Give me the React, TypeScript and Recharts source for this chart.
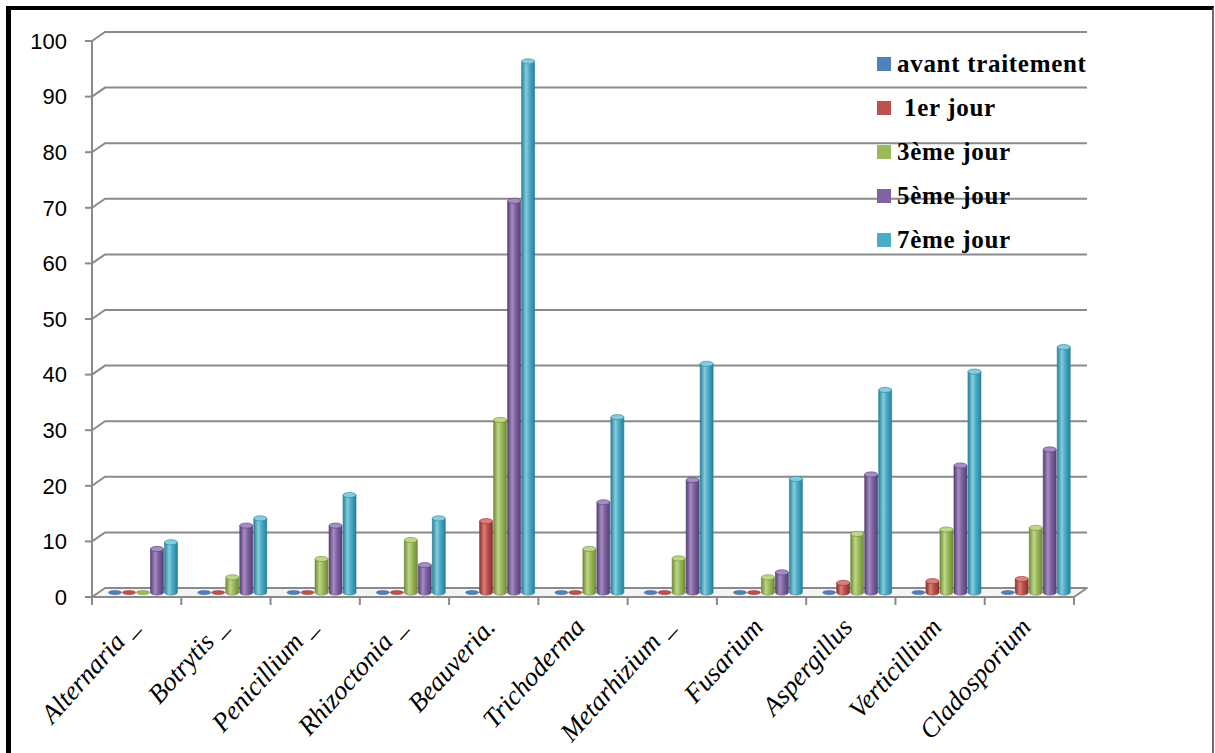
import React from 'react';
import { BarChart, Bar, XAxis, YAxis, CartesianGrid, Legend } from 'recharts';

// fungal genera on the category axis
const categories = [
  'Alternaria _', 'Botrytis _', 'Penicillium _', 'Rhizoctonia _', 'Beauveria.',
  'Trichoderma', 'Metarhizium _', 'Fusarium', 'Aspergillus', 'Verticillium', 'Cladosporium',
];

const avantTraitement = [0, 0, 0, 0, 0, 0, 0, 0, 0, 0, 0];
const jour1 = [0, 0, 0, 0, 13.3, 0, 0, 0, 2.2, 2.5, 2.9];
const jour3 = [0, 3.2, 6.5, 9.9, 31.5, 8.3, 6.6, 3.2, 11.0, 11.8, 12.1];
const jour5 = [8.3, 12.5, 12.5, 5.4, 70.9, 16.7, 20.7, 4.1, 21.7, 23.3, 26.2];
const jour7 = [9.5, 13.8, 18.0, 13.8, 96.0, 32.0, 41.6, 20.9, 36.9, 40.2, 44.6];

const yTicks = [0, 10, 20, 30, 40, 50, 60, 70, 80, 90, 100];

const SERIES = [
  { key: 'avant', name: 'avant traitement', color: '#4F81BD', edge: '#2F5A8C', light: '#7FA6D6' },
  { key: 'j1', name: ' 1er jour', color: '#C0504D', edge: '#8A302D', light: '#DB7F7C' },
  { key: 'j3', name: '3ème jour', color: '#9BBB59', edge: '#6F8A36', light: '#BDD68A' },
  { key: 'j5', name: '5ème jour', color: '#8064A2', edge: '#563F75', light: '#A58DC4' },
  { key: 'j7', name: '7ème jour', color: '#4BACC6', edge: '#27819A', light: '#86CCDD' },
];

const data = categories.map((name, i) => ({
  name,
  avant: avantTraitement[i],
  j1: jour1[i],
  j3: jour3[i],
  j5: jour5[i],
  j7: jour7[i],
}));

// layout
const W = 1215;
const H = 753;
const MARGIN = { top: 41, right: 141, bottom: 16, left: 32 };
const Y_AXIS_W = 60;
const X_AXIS_H = 140;
const PLOT_LEFT = MARGIN.left + Y_AXIS_W;
const PLOT_RIGHT = W - MARGIN.right;
const PLOT_BOTTOM = H - MARGIN.bottom - X_AXIS_H;
const BAND = (PLOT_RIGHT - PLOT_LEFT) / categories.length;

// fake depth: back wall offset and bar (mid-depth) offset
const WALL_DX = 13;
const WALL_DY = -9;
const BAR_DX = 6.5;
const BAR_DY = -4.5;

const GRID_STROKE = '#8a8a8a';
const SERIF = "'Liberation Serif', 'Times New Roman', serif";

const gridLine = (p: any) => {
  const { x1, x2, y1, index } = p;
  if (y1 >= PLOT_BOTTOM - 0.5) {
    // floor
    const pts = [
      `${x1},${y1}`,
      `${x2},${y1}`,
      `${x2 + WALL_DX},${y1 + WALL_DY}`,
      `${x1 + WALL_DX},${y1 + WALL_DY}`,
    ].join(' ');
    return <polygon key={`floor-${index}`} points={pts} fill="#f4f4f4" stroke={GRID_STROKE} strokeWidth={2} strokeLinejoin="round" />;
  }
  return (
    <path
      key={`grid-${index}`}
      d={`M${x1},${y1} L${x1 + WALL_DX},${y1 + WALL_DY} L${x2 + WALL_DX},${y1 + WALL_DY}`}
      fill="none"
      stroke={GRID_STROKE}
      strokeWidth={2}
    />
  );
};

const Cylinder = (props: any) => {
  const { x, y, width, height, s } = props;
  const left = x + BAR_DX;
  const cx = left + width / 2;
  const rx = width / 2;
  const base = y + height + BAR_DY;
  if (!height || height < 1) {
    return <ellipse cx={cx} cy={base} rx={rx} ry={2} fill={s.color} stroke={s.edge} strokeWidth={0.5} />;
  }
  const ry = 2.6;
  const top = y + BAR_DY + ry;
  return (
    <g>
      <path
        d={`M${left},${top} L${left},${base} A${rx},${ry} 0 0 0 ${left + width},${base} L${left + width},${top} Z`}
        fill={`url(#cyl-${s.key})`}
        stroke={s.edge}
        strokeWidth={0.6}
      />
      <ellipse cx={cx} cy={top} rx={rx} ry={ry} fill={s.light} stroke={s.edge} strokeWidth={0.6} />
    </g>
  );
};

const CategoryTick = (props: any) => {
  const { x, payload, index } = props;
  const half = BAND / 2;
  return (
    <g>
      <line x1={x - half} y1={PLOT_BOTTOM} x2={x - half} y2={PLOT_BOTTOM + 8} stroke={GRID_STROKE} strokeWidth={2} />
      {index === categories.length - 1 && (
        <line x1={x + half} y1={PLOT_BOTTOM} x2={x + half} y2={PLOT_BOTTOM + 8} stroke={GRID_STROKE} strokeWidth={2} />
      )}
      <text
        transform={`translate(${x + 3},${PLOT_BOTTOM + 31}) rotate(-48)`}
        textAnchor="end"
        fontFamily={SERIF}
        fontStyle="italic"
        fontSize={26.5}
        fill="#000"
      >
        {payload.value}
      </text>
    </g>
  );
};

// legend keeps series order (Recharts would sort the entries by name)
const renderLegend = () => (
  <div>
    {SERIES.map((s) => (
      <div key={s.key} style={{ height: 44, display: 'flex', alignItems: 'center' }}>
        <span style={{ width: 14, height: 14, background: s.color, display: 'inline-block', marginRight: 6 }} />
        <span
          style={{
            fontFamily: SERIF,
            fontWeight: 'bold',
            fontSize: 25,
            letterSpacing: 0.7,
            color: '#000',
            whiteSpace: 'pre',
          }}
        >
          {s.name}
        </span>
      </div>
    ))}
  </div>
);

export default function App() {
  return (
    <div style={{ position: 'absolute', left: 0, top: 0, width: W, height: H, overflow: 'hidden', background: '#fff' }}>
      <div
        style={{
          position: 'absolute',
          left: 6,
          top: 6,
          width: 1208,
          height: 800,
          boxSizing: 'border-box',
          borderLeft: '5px solid #000',
          borderTop: '4px solid #000',
          borderRight: '2px solid #6e6e6e',
        }}
      />
      <div style={{ position: 'absolute', left: 0, top: 0 }}>
        <BarChart width={W} height={H} data={data} margin={MARGIN} barSize={13} barGap={1}>
          <defs>
            {SERIES.map((s) => (
              <linearGradient key={s.key} id={`cyl-${s.key}`} x1="0" y1="0" x2="1" y2="0">
                <stop offset="0%" stopColor={s.edge} />
                <stop offset="35%" stopColor={s.light} />
                <stop offset="60%" stopColor={s.color} />
                <stop offset="100%" stopColor={s.edge} />
              </linearGradient>
            ))}
          </defs>
          <CartesianGrid horizontal={gridLine} vertical={false} />
          <XAxis
            dataKey="name"
            height={X_AXIS_H}
            axisLine={false}
            tickLine={false}
            interval={0}
            tick={<CategoryTick />}
          />
          <YAxis
            width={Y_AXIS_W}
            domain={[0, 100]}
            ticks={yTicks}
            interval={0}
            axisLine={{ stroke: GRID_STROKE, strokeWidth: 2 }}
            tickLine={{ stroke: GRID_STROKE, strokeWidth: 2 }}
            tickSize={7}
            tickMargin={18}
            tick={{ fill: '#000', fontSize: 22, fontFamily: "'Liberation Sans', Arial, sans-serif" }}
          />
          <Legend
            layout="vertical"
            align="center"
            verticalAlign="middle"
            content={renderLegend}
            wrapperStyle={{ position: 'absolute', left: 877, top: 42, width: 260 }}
          />
          {SERIES.map((s) => (
            <Bar
              key={s.key}
              dataKey={s.key}
              name={s.name}
              fill={s.color}
              isAnimationActive={false}
              shape={(p: any) => <Cylinder {...p} s={s} />}
            />
          ))}
        </BarChart>
      </div>
    </div>
  );
}
